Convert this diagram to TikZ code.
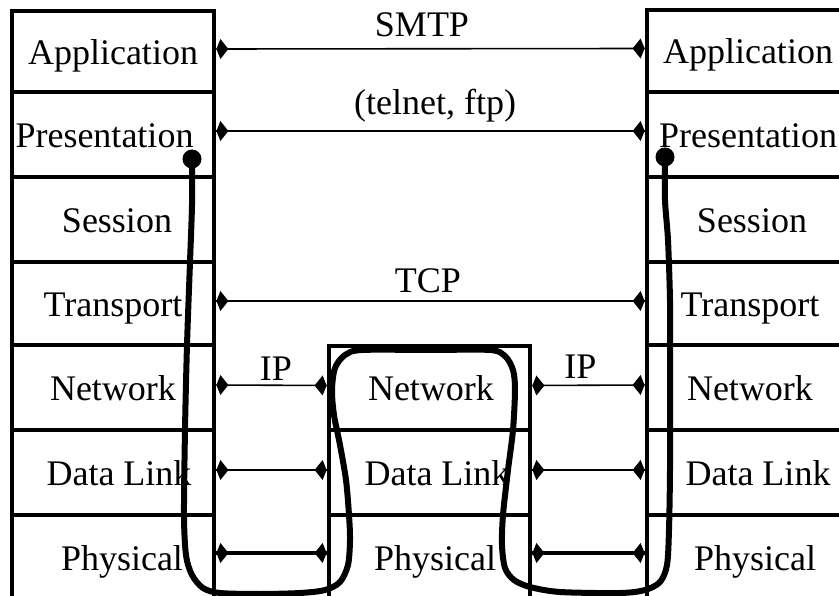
\documentclass[tikz,border=0pt]{standalone}
\usepackage{fontspec}
\setmainfont{Liberation Serif}
\usetikzlibrary{decorations.markings}
\begin{document}
\begin{tikzpicture}[x=1pt,y=-1pt,
  cell/.style={draw, line width=4.8pt, rectangle, inner sep=0pt, minimum width=202pt,
    text height=32pt, text depth=6pt, font=\fontsize{36}{40}\selectfont},
  mcell/.style={cell, minimum width=201pt},
  proto/.style={line width=1.6pt, postaction={decorate},
    decoration={markings,
      mark=at position 0 with {\fill (0pt,0pt) -- (4pt,10pt) -- (12pt,0pt) -- (4pt,-10pt) -- cycle;},
      mark=at position 1 with {\fill (0pt,0pt) -- (-4pt,10pt) -- (-12pt,0pt) -- (-4pt,-10pt) -- cycle;}}},
  phys/.style={proto, line width=3.5pt},
  lab/.style={anchor=base, inner sep=0pt, font=\fontsize{36}{40}\selectfont},
  route/.style={line width=6pt, line cap=round, line join=round},
  dotnode/.style={circle, fill, inner sep=0pt, minimum size=19pt}
]
\useasboundingbox (0,0) rectangle (839,596);
\clip (0,0) rectangle (839,596);
\fill[white] (0,0) rectangle (839,596);

% left stack
\node[cell, minimum height=81pt] (LApp) at (113,51.5) {Application};
\node[cell, minimum height=85pt] (LPre) at (113,134.5) {Presentation\kern17pt};
\node[cell, minimum height=85pt] (LSes) at (113,219.5) {\kern8pt Session};
\node[cell, minimum height=83pt] (LTra) at (113,303.5) {Transport};
\node[cell, minimum height=85pt] (LNet) at (113,387.5) {Network};
\node[cell, minimum height=85pt] (LDL)  at (113,472.5) {\kern12pt Data Link};
\node[cell, minimum height=84pt] (LPhy) at (113,557) {\kern18pt Physical};

% right stack
\node[cell, minimum height=82pt] (RApp) at (748,51) {Application};
\node[cell, minimum height=85pt] (RPre) at (748,134.5) {Presentation};
\node[cell, minimum height=85pt] (RSes) at (748,219.5) {\kern8pt Session};
\node[cell, minimum height=83pt] (RTra) at (748,303.5) {\kern4pt Transport};
\node[cell, minimum height=85pt] (RNet) at (748,387.5) {\kern4pt Network};
\node[cell, minimum height=85pt] (RDL)  at (748,472.5) {\kern20pt Data Link};
\node[cell, minimum height=84pt] (RPhy) at (748,557) {\kern14pt Physical};

% middle (router) stack
\node[mcell, minimum height=84pt] (MNet) at (429.5,388) {\kern3pt Network};
\node[mcell, minimum height=85pt] (MDL)  at (429.5,472.5) {\kern15pt Data Link};
\node[mcell, minimum height=84pt] (MPhy) at (429.5,557) {\kern11pt Physical};

% protocol arrows
\draw[proto] ([yshift=2.5pt]LApp.east) -- node[lab, xshift=-8.5pt, yshift=12pt] (smtp) {SMTP} ([yshift=2.5pt]RApp.west);
\draw[proto] ([yshift=3.5pt]LPre.east) -- node[lab, xshift=4.5pt, yshift=16pt] (telnet) {(telnet, ftp)} ([yshift=3.5pt]RPre.west);
\draw[proto] ([yshift=2.5pt]LTra.east) -- node[lab, xshift=-2.5pt, yshift=8pt] (tcp) {TCP} ([yshift=2.5pt]RTra.west);
\draw[proto] ([yshift=2.5pt]LNet.east) -- node[lab, xshift=4.5pt, yshift=5pt] (ipl) {IP} ([yshift=2.5pt]MNet.west);
\draw[proto] ([yshift=2.5pt]MNet.east) -- node[lab, xshift=-8pt, yshift=7pt] (ipr) {IP} ([yshift=2.5pt]RNet.west);
\draw[proto] ([yshift=2.5pt]LDL.east) -- ([yshift=2.5pt]MDL.west);
\draw[proto] ([yshift=2.5pt]MDL.east) -- ([yshift=2.5pt]RDL.west);
\draw[phys] ([yshift=4pt]LPhy.east) -- ([yshift=4pt]MPhy.west);
\draw[phys] ([yshift=4pt]MPhy.east) -- ([yshift=4pt]RPhy.west);

% data path
\node[dotnode] (dotL) at (192,159) {};
\node[dotnode] (dotR) at (665,157) {};
\draw[route] plot[smooth, tension=0.5] coordinates {
  (dotL.center) (192,205) (190,262) (187,345) (185,430) (184,515) (186,555)
  (192,575) (203,588) (220,593) (260,594) (300,593) (325,590) (340,582)
  (348,565) (350,540) (349,515) (346,480) (340,445) (334,415) (332,390)
  (335,368) (345,355) (362,350) (430,350) (490,350) (505,356) (513,370)
  (515,390) (513,430) (508,470) (503,515) (502,545) (505,568) (514,580)
  (530,587) (560,592) (620,593) (645,590) (660,582) (667,565) (669,530)
  (670,470) (670,400) (670,345) (670,300) (668,240) (665,200) (dotR.center)};
\end{tikzpicture}
\end{document}
